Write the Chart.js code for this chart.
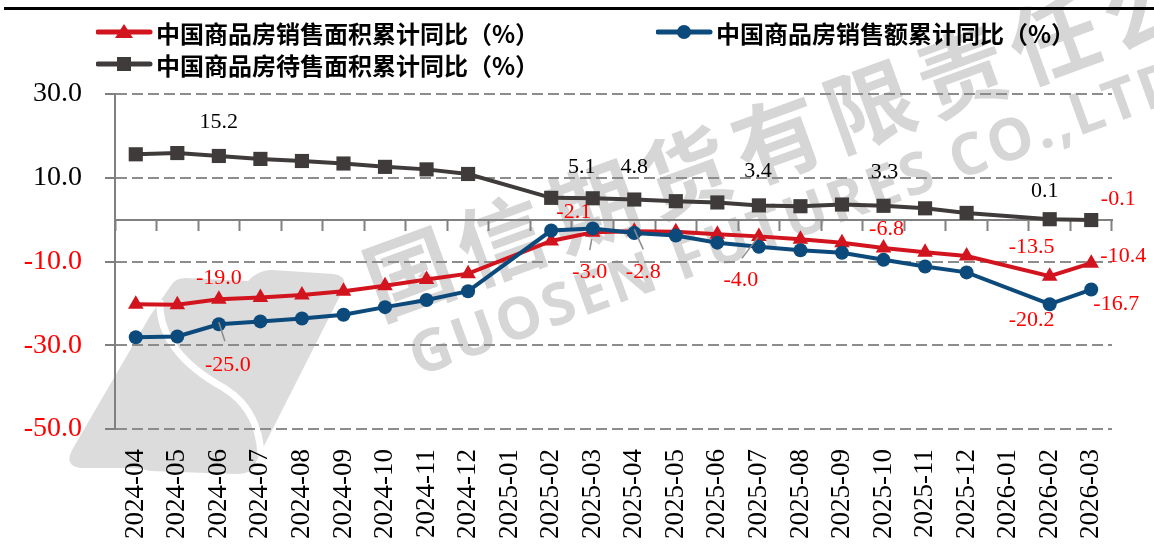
<!DOCTYPE html>
<html lang="zh-CN">
<head>
<meta charset="utf-8">
<title>中国商品房销售面积、销售额与待售面积累计同比</title>
<script src="https://cdn.jsdelivr.net/npm/chart.js@4.4.1/dist/chart.umd.min.js"></script>
<style>
  html, body { margin: 0; padding: 0; background: #fff; }
  #wrap { position: relative; width: 1154px; height: 547px; overflow: hidden; }
  #topRule { position: absolute; left: 4px; right: 0; top: 7px; height: 3px; background: #000; }
  #logo { position: absolute; left: 0; top: 0; }
  .wm { position: absolute; color: #d6d6d6; white-space: nowrap; line-height: 1; transform-origin: 0 50%; }
  #wmCn { left: 366px; top: 220px; font: bold 88px "Noto Sans CJK SC"; letter-spacing: 10px; transform: rotate(-20deg); }
  #wmEn { left: 410px; top: 316px; font: bold 58px "Open Sans"; letter-spacing: 3px; transform: rotate(-20deg); }
  .lg-item { position: absolute; height: 32px; display: flex; align-items: center;
             font-family: "Noto Sans CJK SC"; font-weight: bold; font-size: 24px; color: #000; }
  .lg-item svg { margin-right: 2px; }
  #lg0 { left: 96px; top: 16px; }
  #lg1 { left: 656px; top: 16px; }
  #lg2 { left: 96px; top: 48px; }
  canvas { position: absolute; left: 0; top: 0; }
</style>
</head>
<body>
<div id="wrap">
  <svg id="logo" width="1154" height="547" viewBox="0 0 1154 547">
    <path d="M172 284 Q176 278 186 278 L248 281 Q258 270 272 270 L334 274 Q350 277 342 292 L264 446 L252 470 Q246 474 236 474 L150 471 Q140 468 132 468 L80 468 Q64 466 72 450 L150 316 Z" fill="#dcdcdc"/>
    <path d="M160 300 C158 340, 188 368, 224 388 C250 404, 260 428, 261 456" fill="none" stroke="#fff" stroke-width="7"/>
  </svg>
  <div class="wm" id="wmCn">国信期货有限责任公司</div>
  <div class="wm" id="wmEn">GUOSEN FUTURES CO.,LTD</div>
  <div id="topRule"></div>
  <canvas id="chart" width="1154" height="547"></canvas>
  <div class="lg-item" id="lg0"></div>
  <div class="lg-item" id="lg1"></div>
  <div class="lg-item" id="lg2"></div>
</div>
<script>
// 月份（横轴）
const months = ["2024-04", "2024-05", "2024-06", "2024-07", "2024-08", "2024-09", "2024-10", "2024-11", "2024-12",
  "2025-01", "2025-02", "2025-03", "2025-04", "2025-05", "2025-06", "2025-07", "2025-08", "2025-09", "2025-10",
  "2025-11", "2025-12", "2026-01", "2026-02", "2026-03"];

// 系列名称
const seriesNames = ["中国商品房销售面积累计同比（%）", "中国商品房销售额累计同比（%）", "中国商品房待售面积累计同比（%）"];

// 各系列数值（1月不单独公布，留空）
const areaYoY = [-20.2, -20.3, -19.0, -18.6, -18.0, -17.1, -15.8, -14.3, -12.9, null, -5.1, -3.0,
  -2.8, -2.9, -3.5, -4.0, -4.7, -5.5, -6.8, -7.8, -8.7, null, -13.5, -10.4];
const amountYoY = [-28.1, -27.9, -25.0, -24.3, -23.6, -22.7, -20.9, -19.2, -17.1, null, -2.6, -2.1,
  -3.2, -3.8, -5.5, -6.5, -7.3, -7.9, -9.6, -11.2, -12.6, null, -20.2, -16.7];
const unsoldYoY = [15.6, 15.9, 15.2, 14.5, 14.0, 13.4, 12.6, 12.0, 10.9, null, 5.2, 5.1,
  4.8, 4.4, 4.1, 3.4, 3.2, 3.6, 3.3, 2.7, 1.6, null, 0.1, -0.1];

// 纵轴刻度
const yMin = -50;
const yMax = 30;
const yStep = 20;

// 颜色
const RED = "#D2141E";
const BLUE = "#0D4A7C";
const GRAY = "#403B3B";
const LABEL_RED = "#FF0000";
const AXIS_GRAY = "#808080";

// 数据标签：哪个系列、第几个点、偏移、引导线
const pointLabels = [
  { series: 0, index: 2, dx: 0, dy: -21 },
  { series: 0, index: 11, dx: -3, dy: 40, lead: [-1, 7, -3, 18] },
  { series: 0, index: 12, dx: 9, dy: 41, lead: [0, -2, 9, 18] },
  { series: 0, index: 15, dx: -18, dy: 44, lead: [-1, 1, -17, 22] },
  { series: 0, index: 18, dx: 3, dy: -19 },
  { series: 0, index: 22, dx: -18, dy: -29 },
  { series: 0, index: 23, dx: 32, dy: -7 },
  { series: 1, index: 2, dx: 9, dy: 41, lead: [0, -2, 6, 17] },
  { series: 1, index: 11, dx: -19, dy: -16 },
  { series: 1, index: 22, dx: -18, dy: 16 },
  { series: 1, index: 23, dx: 25, dy: 15 },
  { series: 2, index: 2, dx: 0, dy: -34 },
  { series: 2, index: 11, dx: -11, dy: -31 },
  { series: 2, index: 12, dx: 0, dy: -32 },
  { series: 2, index: 15, dx: -1, dy: -34 },
  { series: 2, index: 18, dx: 1, dy: -34 },
  { series: 2, index: 22, dx: -5, dy: -28 },
  { series: 2, index: 23, dx: 27, dy: -21 }
];

// 图例（线 + 标记）
function legendIcon(color, shape) {
  let mark = "";
  if (shape === "triangle") mark = `<polygon points="28,2 19,16 37,16" fill="${color}"/>`;
  if (shape === "circle") mark = `<circle cx="28" cy="10" r="7" fill="${color}"/>`;
  if (shape === "rect") mark = `<rect x="21" y="3" width="14" height="14" fill="${color}"/>`;
  return `<svg width="58" height="20" viewBox="0 0 58 20">` +
    `<line x1="2" y1="10" x2="54" y2="10" stroke="${color}" stroke-width="5" stroke-linecap="round"/>` +
    mark + `</svg>`;
}

const legendStyles = [[RED, "triangle"], [BLUE, "circle"], [GRAY, "rect"]];
seriesNames.forEach((name, i) => {
  const el = document.getElementById("lg" + i);
  el.innerHTML = legendIcon(legendStyles[i][0], legendStyles[i][1]) + "<span>" + name + "</span>";
});

// 数据标签插件
const labelPlugin = {
  id: "pointLabels",
  afterDatasetsDraw(chart) {
    const ctx = chart.ctx;
    ctx.save();
    ctx.font = '22px "Liberation Serif"';
    ctx.textAlign = "center";
    ctx.textBaseline = "middle";
    pointLabels.forEach((lb) => {
      const el = chart.getDatasetMeta(lb.series).data[lb.index];
      const value = chart.data.datasets[lb.series].data[lb.index];
      if (!el || value === null) return;
      if (lb.lead) {
        ctx.strokeStyle = "#8C8C8C";
        ctx.lineWidth = 1.5;
        ctx.beginPath();
        ctx.moveTo(el.x + lb.lead[0], el.y + lb.lead[1]);
        ctx.lineTo(el.x + lb.lead[2], el.y + lb.lead[3]);
        ctx.stroke();
      }
      ctx.fillStyle = value < 0 ? LABEL_RED : "#000";
      ctx.fillText(value.toFixed(1), el.x + lb.dx, el.y + lb.dy);
    });
    ctx.restore();
  }
};

function lineDataset(label, data, color, pointStyle, radius, order) {
  return {
    label: label,
    data: data,
    xAxisID: "x",
    yAxisID: "y",
    borderColor: color,
    backgroundColor: color,
    pointBackgroundColor: color,
    pointBorderColor: color,
    borderWidth: 4,
    pointStyle: pointStyle,
    pointRadius: radius,
    pointBorderWidth: 0,
    spanGaps: true,
    tension: 0,
    order: order
  };
}

new Chart(document.getElementById("chart"), {
  type: "line",
  data: {
    labels: months,
    datasets: [
      lineDataset(seriesNames[0], areaYoY, RED, "triangle", 9, 2),
      lineDataset(seriesNames[1], amountYoY, BLUE, "circle", 7, 1),
      lineDataset(seriesNames[2], unsoldYoY, GRAY, "rect", 10, 3)
    ]
  },
  options: {
    responsive: false,
    animation: false,
    layout: { padding: { top: 94, right: 42, left: 0, bottom: 0 } },
    plugins: {
      legend: { display: false },
      tooltip: { enabled: false }
    },
    scales: {
      x: {
        type: "category",
        offset: true,
        grid: { display: false, drawTicks: false },
        border: { display: false },
        ticks: {
          color: "#000",
          font: { family: '"Liberation Serif"', size: 27 },
          minRotation: 90,
          maxRotation: 90,
          autoSkip: false,
          padding: 20
        },
        afterFit: (s) => { s.height = 118; }
      },
      x2: {
        type: "category",
        axis: "x",
        position: { y: 0 },
        offset: true,
        grid: { offset: true, drawOnChartArea: false, drawTicks: true, tickLength: 10,
                tickColor: AXIS_GRAY, tickWidth: 2, color: AXIS_GRAY },
        border: { display: true, color: AXIS_GRAY, width: 2 },
        ticks: { display: false },
        afterFit: (s) => { s.height = 0; }
      },
      y: {
        min: yMin,
        max: yMax,
        ticks: {
          stepSize: yStep,
          padding: 23,
          callback: (v) => Number(v).toFixed(1),
          color: (c) => (c.tick && c.tick.value < 0 ? LABEL_RED : "#000"),
          font: { family: '"Liberation Serif"', size: 28 }
        },
        grid: { color: "#8C8C8C", lineWidth: 2, tickLength: 10, tickColor: AXIS_GRAY, tickWidth: 2 },
        border: { display: true, color: AXIS_GRAY, width: 2, dash: [11, 5] },
        afterFit: (s) => { s.width = 115; }
      }
    }
  },
  plugins: [labelPlugin]
});
</script>
</body>
</html>
